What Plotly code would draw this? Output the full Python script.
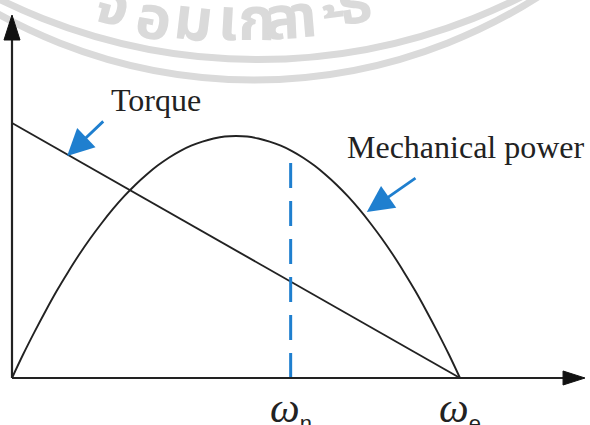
import math
import plotly.graph_objects as go

# Normalised speed (omega / omega_e) and the two characteristics
speed = [0.0, 0.025, 0.05, 0.075, 0.10, 0.125, 0.15, 0.175, 0.20, 0.225,
         0.25, 0.275, 0.30, 0.325, 0.35, 0.375, 0.40, 0.425, 0.45, 0.475,
         0.50, 0.525, 0.55, 0.575, 0.60, 0.625, 0.65, 0.675, 0.70, 0.725,
         0.75, 0.775, 0.80, 0.825, 0.85, 0.875, 0.90, 0.925, 0.95, 0.975, 1.0]
power = [0.000, 0.093, 0.180, 0.263, 0.342, 0.415, 0.484, 0.548, 0.607, 0.662,
         0.712, 0.757, 0.797, 0.833, 0.864, 0.890, 0.911, 0.927, 0.939, 0.947,
         0.949, 0.947, 0.939, 0.927, 0.911, 0.890, 0.864, 0.833, 0.797, 0.757,
         0.712, 0.662, 0.607, 0.548, 0.484, 0.415, 0.342, 0.263, 0.180, 0.093,
         0.000]
torque_speed = [0.0, 1.0]
torque = [1.0, 0.0]

omega_n = 0.622          # rated speed marker
power_at_n = 0.89        # power reading at omega_n

SUB = "<sub><span style='font-family:Liberation Sans;font-size:22px'>{}</span></sub>"
tick_labels = ["<i>ω</i>" + SUB.format("n"), "<i>ω</i>" + SUB.format("e")]
tick_positions = [omega_n, 1.0]

W, H = 590, 425
X_RANGE = [-0.02679, 1.29018]
Y_RANGE = [-0.18431, 1.48235]

INK = "#222222"
BLUE = "#1f7fcf"
WM = "#dadada"

fig = go.Figure()

# Watermark rings (pixel geometry converted to paper coordinates)
def ring(cx, cy, r, width):
    return dict(type="circle", xref="paper", yref="paper",
                x0=(cx - r) / W, x1=(cx + r) / W,
                y0=1 - (cy + r) / H, y1=1 - (cy - r) / H,
                line=dict(color=WM, width=width), layer="below")

shapes = [ring(253.7, -447.3, 527.3, 7), ring(257.9, -525.5, 585.0, 7)]

# Watermark lettering along the inner ring
wm_glyphs = ["จ", "อ", "ม", "เ", "ก", "ล", "า", "้", "ธ"]
wm_x = [113, 154, 193, 228, 256, 282, 304, 332, 355]
wm_y = [6, 20, 22, 22, 21, 20, 19, 10, 5]
annotations = []
cxw, cyw = 257.9, -525.5
for g, px, py in zip(wm_glyphs, wm_x, wm_y):
    ang = math.degrees(math.atan2(cxw - px, py - cyw))
    annotations.append(dict(xref="paper", yref="paper", x=px / W, y=1 - py / H,
                            text=f"<b>{g}</b>", showarrow=False, textangle=ang,
                            font=dict(size=60, color=WM,
                                      family="Noto Sans Thai, Noto Sans, DejaVu Sans"),
                            xanchor="center", yanchor="middle"))

# Curves
fig.add_trace(go.Scatter(x=torque_speed, y=torque, mode="lines",
                         line=dict(color=INK, width=1.9), hoverinfo="skip"))
fig.add_trace(go.Scatter(x=speed, y=power, mode="lines",
                         line=dict(color=INK, width=1.9, shape="spline"),
                         hoverinfo="skip"))
fig.add_trace(go.Scatter(x=[omega_n, omega_n], y=[0, power_at_n], mode="lines",
                         line=dict(color=BLUE, width=3, dash="25px,13px"),
                         hoverinfo="skip"))

# Coordinate axes with arrow heads
x_tip, y_tip = 1.279, 1.4235
shapes += [
    dict(type="line", xref="x", yref="y", x0=0, y0=0, x1=x_tip - 0.02, y1=0,
         line=dict(color=INK, width=2.2)),
    dict(type="line", xref="x", yref="y", x0=0, y0=0, x1=0, y1=y_tip - 0.05,
         line=dict(color=INK, width=2.2)),
    dict(type="path", xref="x", yref="y",
         path=f"M {x_tip} 0 L {x_tip - 0.049} 0.0275 L {x_tip - 0.049} -0.0275 Z",
         fillcolor="#111111", line=dict(color="#111111", width=1)),
    dict(type="path", xref="x", yref="y",
         path=f"M 0 {y_tip} L 0.0179 {y_tip - 0.098} L -0.0179 {y_tip - 0.098} Z",
         fillcolor="#111111", line=dict(color="#111111", width=1)),
]

# Curve labels with pointer arrows
annotations += [
    dict(x=0.321, y=1.09, xref="x", yref="y", text="Torque", showarrow=False,
         xanchor="center", yanchor="middle",
         font=dict(family="Liberation Serif", size=32, color=INK)),
    dict(x=1.013, y=0.905, xref="x", yref="y", text="Mechanical power", showarrow=False,
         xanchor="center", yanchor="middle",
         font=dict(family="Liberation Serif", size=32, color=INK)),
    dict(x=0.123, y=0.871, ax=0.207, ay=1.012, xref="x", yref="y",
         axref="x", ayref="y", text="", showarrow=True, arrowhead=2,
         arrowsize=1.9, arrowwidth=2.8, arrowcolor=BLUE),
    dict(x=0.792, y=0.651, ax=0.904, ay=0.788, xref="x", yref="y",
         axref="x", ayref="y", text="", showarrow=True, arrowhead=2,
         arrowsize=1.9, arrowwidth=2.8, arrowcolor=BLUE),
]
for lab, pos in zip(tick_labels, tick_positions):
    annotations.append(dict(x=pos, y=-0.02, xref="x", yref="y", text=lab,
                            showarrow=False, xanchor="center", yanchor="top",
                            font=dict(family="Liberation Serif", size=42, color=INK)))

fig.update_layout(
    width=W, height=H, margin=dict(l=0, r=0, t=0, b=0),
    paper_bgcolor="white", plot_bgcolor="white", showlegend=False,
    xaxis=dict(range=X_RANGE, visible=False, fixedrange=True),
    yaxis=dict(range=Y_RANGE, visible=False, fixedrange=True),
    shapes=shapes, annotations=annotations,
)

fig.write_html("out.html")
